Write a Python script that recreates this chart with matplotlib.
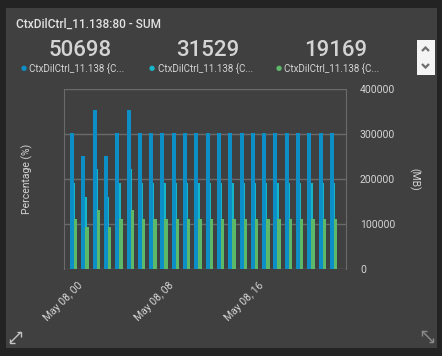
import matplotlib
matplotlib.use("Agg")
import matplotlib.pyplot as plt
from matplotlib.patches import Rectangle
from matplotlib.lines import Line2D
import numpy as np

plt.rcParams["font.family"] = ["Roboto", "DejaVu Sans"]

# data (24 hourly buckets)
hours = list(range(24))
series_blue = [302000, 251000, 353000, 251000, 302000, 353000, 302000, 302000,
               302000, 302000, 302000, 302000, 302000, 302000, 302000, 302000,
               302000, 302000, 302000, 302000, 302000, 302000, 302000, 302000]
series_cyan = [191000, 160000, 222000, 160000, 191000, 222000, 191000, 191000,
               191000, 191000, 191000, 191000, 191000, 191000, 191000, 191000,
               191000, 191000, 191000, 191000, 191000, 191000, 191000, 191000]
series_green = [111000, 93000, 131000, 93000, 111000, 131000, 111000, 111000,
                111000, 111000, 111000, 111000, 111000, 111000, 111000, 111000,
                111000, 111000, 111000, 111000, 111000, 111000, 111000, 111000]
tick_hours = [0, 8, 16]
tick_labels = ["May 08, 00", "May 08, 08", "May 08, 16"]
stat_values = ["50698", "31529", "19169"]
legend_names = ["CtxDilCtrl_11.138 {C...", "CtxDilCtrl_11.138 {C...", "CtxDilCtrl_11.138 {C..."]

c_blue = "#0b8fc6"
c_cyan = "#16b6c8"
c_green = "#5cb96a"
bg = "#404040"
txt = "#d4d4d4"
grid_c = "#6a6a6a"

W, H = 442, 356
fig = plt.figure(figsize=(W / 100, H / 100), dpi=100)
fig.patch.set_facecolor("#232323")

def fx(x):
    return x / W

def fy(y):
    return 1 - y / H

def pline(xs, ys, color, lw=1.0):
    fig.add_artist(Line2D([fx(v) for v in xs], [fy(v) for v in ys],
                          transform=fig.transFigure, color=color, lw=lw,
                          solid_capstyle="butt", solid_joinstyle="miter"))

# panel
fig.add_artist(Rectangle((fx(6), fy(348)), fx(437) - fx(6), fy(8) - fy(348),
                         transform=fig.transFigure, facecolor=bg, edgecolor="none", zorder=0))

# title
fig.text(fx(16), fy(24), "CtxDilCtrl_11.138:80 - SUM", color="#e2e2e2", fontsize=8.6,
         fontweight="medium", ha="left", va="center")

# stat numbers + legend
num_x = [80, 207.5, 335.5]
dot_x = [23.5, 152, 279]
dot_colors = [c_blue, c_cyan, c_green]
for i in range(3):
    fig.text(fx(num_x[i]), fy(51), stat_values[i], color=txt, fontsize=16,
             fontweight="medium", ha="center", va="center")
    fig.text(fx(dot_x[i]), fy(68.5), "\u25cf", color=dot_colors[i], fontsize=5,
             ha="center", va="center")
    fig.text(fx(dot_x[i] + 5.5), fy(68.5), legend_names[i], color=txt, fontsize=7,
             ha="left", va="center")

# scroll box with chevrons
fig.add_artist(Rectangle((fx(417), fy(75)), fx(435) - fx(417), fy(40) - fy(75),
                         transform=fig.transFigure, facecolor="#f4f4f4", edgecolor="none"))
pline([422, 425.5, 429], [51, 47.5, 51], "#6e6e6e", lw=1.6)
pline([422, 425.5, 429], [64, 67.5, 64], "#6e6e6e", lw=1.6)

# resize icons (double arrows)
def expand_icon(x0, y0, x1, y1, color):
    pline([x0, x1], [y0, y1], color, lw=1.0)
    dx = 1 if x1 > x0 else -1
    dy = 1 if y1 > y0 else -1
    h = 4.5
    pline([x0, x0, x0 + dx * h], [y0 + dy * h, y0, y0], color, lw=1.0)
    pline([x1 - dx * h, x1, x1], [y1, y1, y1 - dy * h], color, lw=1.0)

expand_icon(10, 343, 21, 332, "#c4c4c4")
expand_icon(422, 331, 433, 342, "#8a8a8a")

# chart
ax = fig.add_axes([fx(64), fy(269), fx(346) - fx(64), fy(89) - fy(269)])
ax.set_facecolor(bg)
x = np.array(hours)
ax.bar(x, series_blue, width=0.354, align="edge", color=c_blue, zorder=3)
ax.bar(x + 0.354, series_cyan, width=0.12, align="edge", color=c_cyan, zorder=2)
ax.bar(x + 0.354, series_green, width=0.3, align="edge", color=c_green, zorder=4)

ax.set_xlim(-0.53, 24.42)
ax.set_ylim(0, 400000)
ax.yaxis.tick_right()
ax.yaxis.set_label_position("right")
ax.set_yticks([0, 100000, 200000, 300000, 400000])
ax.set_yticklabels(["0", "100000", "200000", "300000", "400000"])
ax.tick_params(axis="y", length=0, pad=10, labelsize=7.5, labelcolor=txt)
ax.grid(axis="y", color=grid_c, lw=1, zorder=1)
ax.set_xticks([t + 0.7 for t in tick_hours])
ax.set_xticklabels(tick_labels, rotation=45, ha="right", rotation_mode="anchor")
ax.tick_params(axis="x", length=0, pad=8, labelsize=7.5, labelcolor=txt)
for s in ["left", "right", "top", "bottom"]:
    ax.spines[s].set_color(grid_c)
ax.spines["top"].set_visible(False)
ax.spines["bottom"].set_visible(False)
ax.set_ylabel("(MB)", color=txt, fontsize=7.5, rotation=-90, labelpad=14, va="center")

fig.text(fx(27), fy(179), "Percentage (%)", color=txt, fontsize=7.5, rotation=90,
         ha="center", va="center")

fig.savefig("out.png", dpi=100, facecolor=fig.get_facecolor())
